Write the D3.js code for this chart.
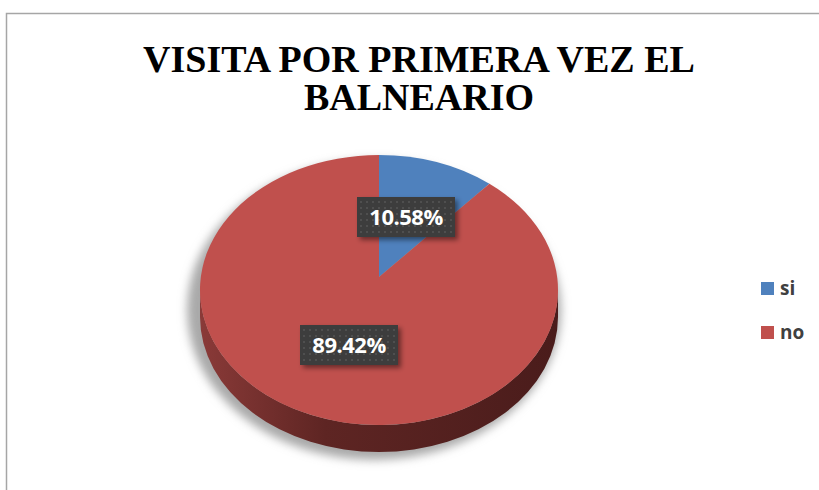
<!DOCTYPE html>
<html>
<head>
<meta charset="utf-8">
<script src="https://cdn.jsdelivr.net/npm/d3@7"></script>
<style>
  body { margin: 0; background: #fff; }
</style>
</head>
<body>
<div id="chart"></div>
<script>
// data
const categories = ["si", "no"];
const values = [10.58, 89.42];
const labels = ["10.58%", "89.42%"];
const colors = ["#4f81bd", "#c0504d"];
const titleLines = ["VISITA POR PRIMERA VEZ EL", "BALNEARIO"];

const width = 819, height = 490;
const cx = 379, cy = 290, rx = 179, ry = 135, depth = 27, apexLift = 13;

const svg = d3.select("#chart")
    .append("svg")
    .attr("width", width)
    .attr("height", height);

const defs = svg.append("defs");

defs.append("filter").attr("id", "blur")
    .attr("x", "-20%").attr("y", "-20%").attr("width", "140%").attr("height", "140%")
    .append("feGaussianBlur").attr("stdDeviation", 5);

const boxShadow = defs.append("filter").attr("id", "boxshadow")
    .attr("x", "-20%").attr("y", "-30%").attr("width", "150%").attr("height", "170%");
boxShadow.append("feDropShadow")
    .attr("dx", 3).attr("dy", 3).attr("stdDeviation", 2.5)
    .attr("flood-color", "#000").attr("flood-opacity", 0.45);

const dots = defs.append("pattern").attr("id", "dots")
    .attr("width", 6).attr("height", 6).attr("patternUnits", "userSpaceOnUse");
dots.append("rect").attr("width", 6).attr("height", 6).attr("fill", "#3d3d3d");
dots.append("rect").attr("x", 2).attr("y", 2).attr("width", 2).attr("height", 2).attr("fill", "#505050");

const sideGrad = defs.append("linearGradient").attr("id", "side")
    .attr("x1", "0%").attr("x2", "100%").attr("y1", "0%").attr("y2", "0%");
sideGrad.append("stop").attr("offset", "0%").attr("stop-color", "#8a3a38");
sideGrad.append("stop").attr("offset", "35%").attr("stop-color", "#5e2523");
sideGrad.append("stop").attr("offset", "100%").attr("stop-color", "#4a1c1b");

// outer chart border
svg.append("rect")
    .attr("x", 6.5).attr("y", 13.5)
    .attr("width", 840).attr("height", 500)
    .attr("fill", "#fff")
    .attr("stroke", "#a6a6a6")
    .attr("stroke-width", 1.5);

// title
svg.append("g")
    .selectAll("text")
    .data(titleLines)
    .join("text")
    .attr("x", 419)
    .attr("y", (d, i) => 72 + i * 38)
    .attr("text-anchor", "middle")
    .style("font-family", "'Liberation Serif', 'Times New Roman', serif")
    .style("font-weight", "bold")
    .style("font-size", "38px")
    .attr("fill", "#000")
    .text(d => d);

// shadow under the pie
svg.append("ellipse")
    .attr("cx", cx - 5).attr("cy", cy + 20)
    .attr("rx", rx + 8).attr("ry", ry + 15)
    .attr("fill", "#a9a9a9")
    .attr("filter", "url(#blur)");

// side of the pie (front half)
svg.append("path")
    .attr("d", `M${cx + rx},${cy} A${rx},${ry} 0 0 1 ${cx - rx},${cy} L${cx - rx},${cy + depth} A${rx},${ry} 0 0 0 ${cx + rx},${cy + depth} Z`)
    .attr("fill", "url(#side)");

// top face slices
const pie = d3.pie().sort(null).value(d => d)(values);
function pt(a) {
    return [cx + rx * Math.sin(a), cy - ry * Math.cos(a)];
}
function slicePath(d) {
    const [x0, y0] = pt(d.startAngle);
    const [x1, y1] = pt(d.endAngle);
    const large = d.endAngle - d.startAngle > Math.PI ? 1 : 0;
    return `M${cx},${cy - apexLift} L${x0},${y0} A${rx},${ry} 0 ${large} 1 ${x1},${y1} Z`;
}
svg.append("g")
    .selectAll("path")
    .data(pie)
    .join("path")
    .attr("d", slicePath)
    .attr("fill", (d, i) => colors[i]);

// data labels
const labelPos = [[406, 217], [349, 345]];
const lbl = svg.append("g")
    .selectAll("g")
    .data(labels)
    .join("g")
    .attr("transform", (d, i) => `translate(${labelPos[i][0]},${labelPos[i][1]})`);
lbl.append("rect")
    .attr("x", -49).attr("y", -20)
    .attr("width", 98).attr("height", 40)
    .attr("fill", "url(#dots)")
    .attr("filter", "url(#boxshadow)");
lbl.append("text")
    .attr("text-anchor", "middle")
    .attr("dy", "0.36em")
    .style("font-family", "'Open Sans', sans-serif")
    .style("font-weight", "bold")
    .style("font-size", "22px")
    .style("letter-spacing", "-0.5px")
    .attr("fill", "#fff")
    .text(d => d);

// legend
const legend = svg.append("g")
    .selectAll("g")
    .data(categories)
    .join("g")
    .attr("transform", (d, i) => `translate(761, ${282 + i * 44})`);
legend.append("rect")
    .attr("width", 13).attr("height", 13)
    .attr("fill", (d, i) => colors[i]);
legend.append("text")
    .attr("x", 19).attr("y", 13)
    .style("font-family", "'Open Sans', sans-serif")
    .style("font-weight", "bold")
    .style("font-size", "19px")
    .attr("fill", "#404040")
    .text(d => d);
</script>
</body>
</html>
